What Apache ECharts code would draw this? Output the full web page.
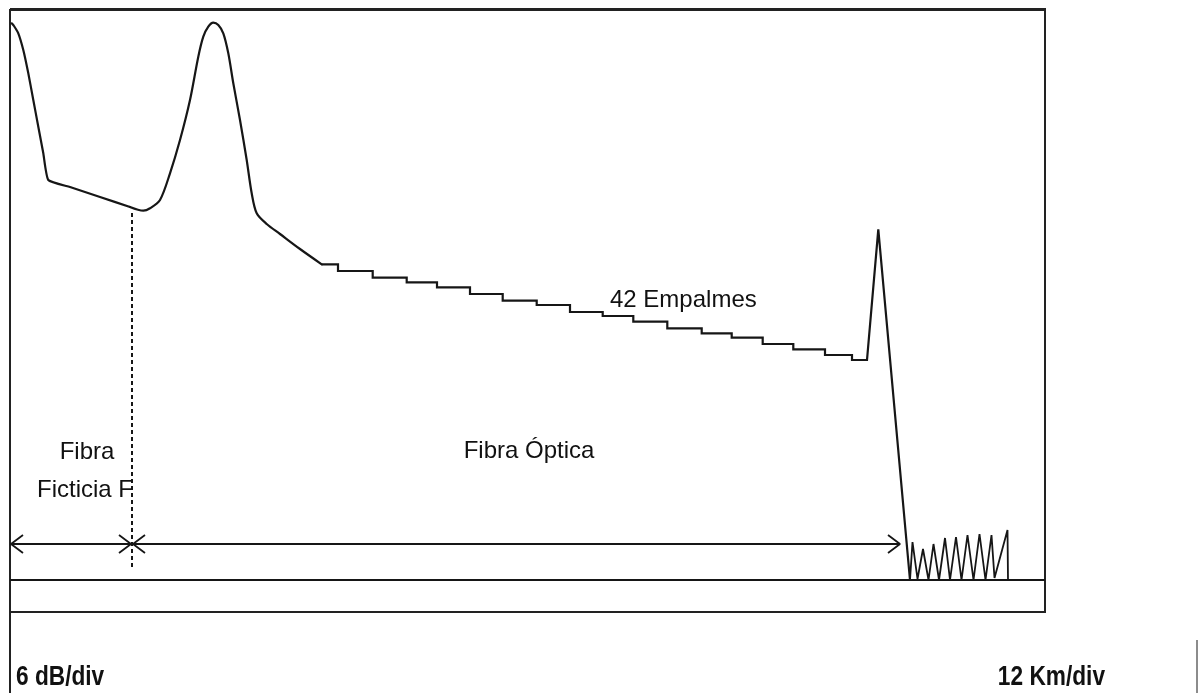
<!DOCTYPE html>
<html><head><meta charset="utf-8">
<script src="https://cdn.jsdelivr.net/npm/echarts@6/dist/echarts.min.js"></script>
<style>html,body{margin:0;padding:0;background:#fff}#c{width:1204px;height:693px}</style>
</head><body><div id="c"></div><script>
// ---- data: distance in km, level in dB (relative to the noise floor) ----
// launch (dead-zone) decay and fictitious fibre section
const launchKm = [0.17,0.4,0.83,1.33,1.83,2.33,2.83,3.33,3.83,6.0,9.0,12.0];
const launchDb = [55.67,55.4,54.67,53.0,50.67,48.0,45.33,42.67,40.0,39.3,38.3,37.3];
// reflection at the fibre connector
const connKm = [12.0,13.33,14.0,15.0,16.0,17.0,18.0,18.83,19.33,19.83,20.33,20.83,21.33,21.83,22.33,23.0,23.67,24.17,24.67,25.67,27.0,29.0,31.17];
const connDb = [37.3,36.93,37.17,38.0,40.67,44.0,48.0,52.33,54.33,55.33,55.73,55.5,54.67,52.67,49.67,46.0,42.0,38.67,36.67,35.6,34.6,33.1,31.57];
// splices along the optical fibre
const spliceKm = [32.8,36.27,39.67,42.7,46.0,49.27,52.67,56.0,59.27,62.33,65.73,69.17,72.17,75.27,78.33,81.5,84.2];
const spliceDb = [30.9,30.23,29.77,29.27,28.6,27.93,27.5,26.8,26.4,25.83,25.17,24.67,24.23,23.6,23.07,22.5,22.0];
const fiberEndKm = 85.7;
const endPeakKm = [86.83, 90.0];
const endPeakDb = [35.07, 0.0];
const noiseKm = [90.0,90.25,90.75,91.3,91.85,92.35,92.9,93.5,94.0,94.6,95.15,95.75,96.35,96.95,97.55,98.15,98.45,99.75,99.8];
const noiseDb = [0.0,3.8,0.1,3.1,0.0,3.6,0.0,4.2,0.0,4.3,0.0,4.5,0.0,4.6,0.0,4.5,0.2,5.0,0.0];
const floorDb = 0;
const boundaryKm = 12.2;
const boundaryDb = [36.7, 1.0];
const arrowDb = 3.6;
const ficticiaSpan = [0.1, 12.1];
const opticaSpan = [12.3, 89.0];
const xRange = [0, 103.5];
const yRange = [-3.2, 57.0];

// ---- build series data ----
const launch = launchKm.map((k, i) => [k, launchDb[i]]);
const conn = connKm.map((k, i) => [k, connDb[i]]);
let level = connDb[connDb.length - 1];
const stairs = [[connKm[connKm.length - 1], level]];
spliceKm.forEach((k, i) => { stairs.push([k, level]); level = spliceDb[i]; stairs.push([k, level]); });
stairs.push([fiberEndKm, level]);
endPeakKm.forEach((k, i) => stairs.push([k, endPeakDb[i]]));
const noise = noiseKm.map((k, i) => [k, noiseDb[i]]);

const headLen = 1.2, headHalf = 0.9;
function arrowSeries(span) {
  const [a, b] = span;
  return [
    [[a, arrowDb], [b, arrowDb]],
    [[a + headLen, arrowDb + headHalf], [a, arrowDb], [a + headLen, arrowDb - headHalf]],
    [[b - headLen, arrowDb + headHalf], [b, arrowDb], [b - headLen, arrowDb - headHalf]]
  ];
}
const arrows = [...arrowSeries(ficticiaSpan), ...arrowSeries(opticaSpan)];

const ink = '#161616';
const base = { type: 'line', showSymbol: false, symbol: 'none', silent: true, animation: false,
  lineStyle: { color: ink, width: 2.2, join: 'round', cap: 'round' } };

const series = [
  Object.assign({}, base, { data: launch, smooth: 0.15 }),
  Object.assign({}, base, { data: conn, smooth: 0.3 }),
  Object.assign({}, base, { data: stairs, lineStyle: { color: ink, width: 2.2, join: 'miter' } }),
  Object.assign({}, base, { data: noise, lineStyle: { color: ink, width: 1.8 } }),
  Object.assign({}, base, { data: [[xRange[0], floorDb], [xRange[1], floorDb]], lineStyle: { color: ink, width: 1.8 } }),
  Object.assign({}, base, { data: [[boundaryKm, boundaryDb[0]], [boundaryKm, boundaryDb[1]]],
    lineStyle: { color: ink, width: 2, type: [4, 3] } })
];
arrows.forEach(a => series.push(Object.assign({}, base, { data: a, lineStyle: { color: ink, width: 1.8 } })));

const txt = '"Liberation Sans", Arial, sans-serif';
function label(text, x, y, align, font, sx) {
  return { type: 'text', x: x, y: y, scaleX: sx || 1, silent: true,
    style: { text: text, font: font, fill: '#111', align: align, verticalAlign: 'middle' } };
}

const chart = echarts.init(document.getElementById('c'), null, { renderer: 'canvas' });
chart.setOption({
  backgroundColor: '#fff',
  animation: false,
  grid: { left: 10, top: 10, width: 1035, height: 602, show: true, borderColor: '#222', borderWidth: 2, backgroundColor: 'transparent' },
  xAxis: { type: 'value', min: xRange[0], max: xRange[1], show: false },
  yAxis: { type: 'value', min: yRange[0], max: yRange[1], show: false },
  series: series,
  graphic: [
    { type: 'line', silent: true, shape: { x1: 10, y1: 9, x2: 1046, y2: 9 }, style: { stroke: '#222', lineWidth: 2 } },
    { type: 'line', silent: true, shape: { x1: 10, y1: 612, x2: 10, y2: 693 }, style: { stroke: '#222', lineWidth: 2 } },
    { type: 'line', silent: true, shape: { x1: 1197, y1: 640, x2: 1197, y2: 693 }, style: { stroke: '#666', lineWidth: 1.5 } },
    label('Fibra', 87, 452, 'center', '24px ' + txt),
    label('Ficticia F', 37, 490, 'left', '24px ' + txt),
    label('Fibra Óptica', 529, 451, 'center', '24px ' + txt),
    label('42 Empalmes', 610, 300, 'left', '24px ' + txt),
    label('6 dB/div', 16, 678, 'left', 'bold 27px ' + txt, 0.84),
    label('12 Km/div', 1105, 678, 'right', 'bold 27px ' + txt, 0.84)
  ]
});
</script></body></html>
